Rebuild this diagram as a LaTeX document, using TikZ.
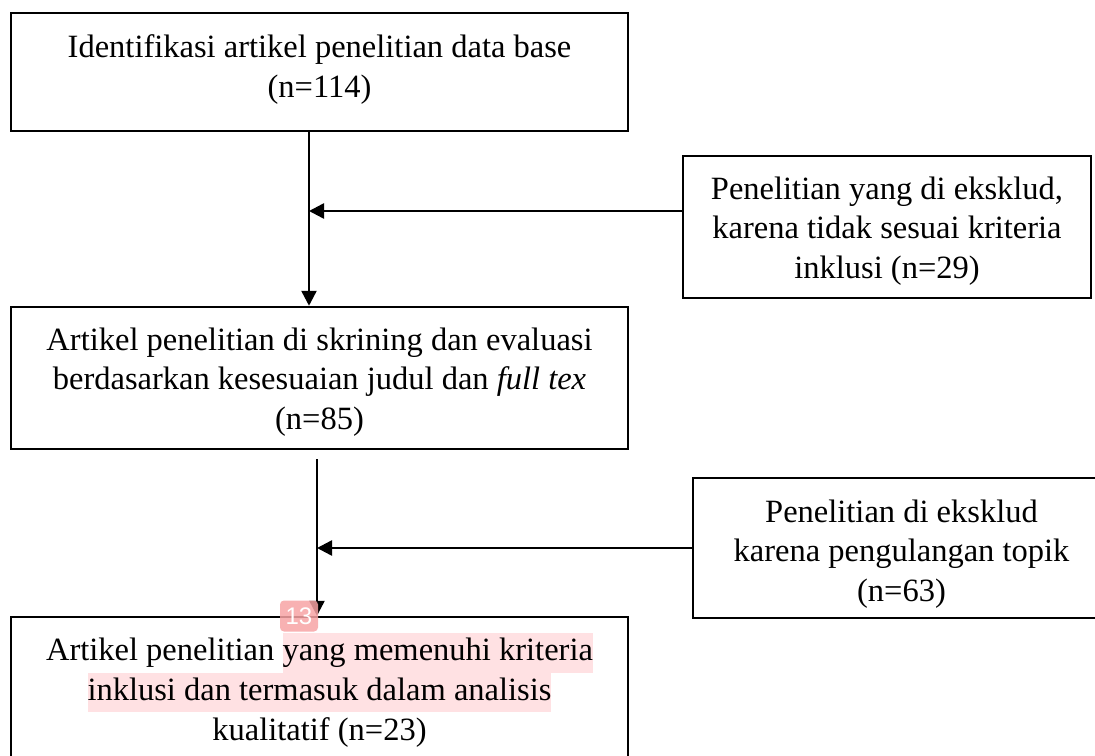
\documentclass[tikz,border=0pt]{standalone}
\usepackage{fontspec}
\setmainfont{Liberation Serif}
\setsansfont{Liberation Sans}
\usetikzlibrary{arrows.meta}
\definecolor{hlpink}{HTML}{FFE1E3}
\definecolor{badge}{HTML}{F7A3A4}
\newcommand{\hlt}[1]{{\setlength{\fboxsep}{0pt}\colorbox{hlpink}{\strut #1}}}
\begin{document}
\begin{tikzpicture}[x=1pt,y=-1pt,
  txt/.style={font=\fontsize{32.5}{39.7}\selectfont, align=center, inner sep=0pt},
  box/.style={draw=black, line width=2.5pt, inner sep=0pt},
  arr/.style={line width=2.5pt, -{Triangle[length=15pt,width=15pt]}}]
\useasboundingbox (0,0) rectangle (1095,755);
\node[box, minimum width=617pt, minimum height=118pt] (b1) at (319.5,72) {};
\node[box, minimum width=617pt, minimum height=142pt] (b2) at (319.5,378) {};
\node[box, minimum width=617pt, minimum height=172pt] (b3) at (319.5,703) {};
\node[box, minimum width=408pt, minimum height=142pt] (r1) at (887,227) {};
\node[box, minimum width=417pt, minimum height=140pt] (r2) at (901.5,548) {};
\node[txt] (t1) at ([yshift=2.5pt]b1.center) {Identifikasi artikel penelitian data base\\(n=114)};
\node[txt] (t2) at ([yshift=-4pt]b2.center) {Artikel penelitian di skrining dan evaluasi\\berdasarkan kesesuaian judul dan \textit{full tex}\\(n=85)};
\node[txt] (t3) at (319.5,690) {Artikel penelitian \hlt{yang memenuhi kriteria}\\\hlt{inklusi dan termasuk dalam analisis}\\kualitatif (n=23)};
\node[txt] (tr1) at ([yshift=-4pt]r1.center) {Penelitian yang di eksklud,\\karena tidak sesuai kriteria\\inklusi (n=29)};
\node[txt] (tr2) at ([yshift=-6pt]r2.center) {Penelitian di eksklud\\karena pengulangan topik\\(n=63)};
\coordinate (v1) at (309,0);
\coordinate (v2) at (317,0);
\draw[arr] (b1.south -| v1) -- (b2.north -| v1);
\draw[arr] ([yshift=16pt]r1.west) -- ([yshift=16pt]r1.west -| v1);
\draw[arr] ([yshift=-9pt]b2.south -| v2) -- (b3.north -| v2);
\draw[arr] (r2.west) -- (r2.west -| v2);
\node[fill=badge, fill opacity=0.85, rounded corners=4pt, minimum width=38pt, minimum height=31pt, inner sep=0pt, text=white, text opacity=1, font=\sffamily\fontsize{24}{24}\selectfont] (bd) at (299,616) {13};
\end{tikzpicture}
\end{document}
